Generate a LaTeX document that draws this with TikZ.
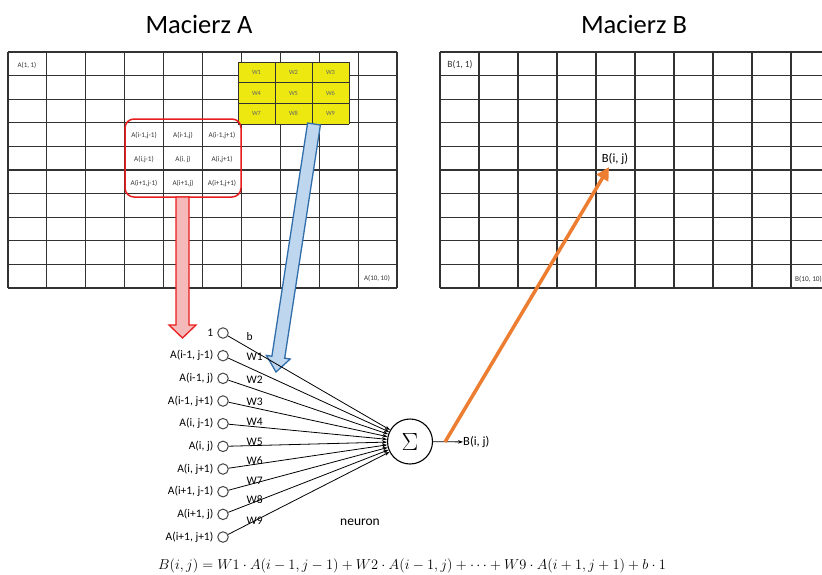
\documentclass[tikz,border=0pt]{standalone}
\usepackage{fontspec}
\setmainfont{Carlito}
\usetikzlibrary{arrows.meta}
\definecolor{gridc}{RGB}{50,50,50}
\definecolor{yel}{RGB}{236,232,16}
\definecolor{redc}{RGB}{232,30,30}
\definecolor{pinkc}{RGB}{245,185,185}
\definecolor{bluef}{RGB}{190,215,238}
\definecolor{bluec}{RGB}{50,110,170}
\definecolor{orangec}{RGB}{237,125,49}
\definecolor{circc}{RGB}{70,70,70}
\begin{document}
\begin{tikzpicture}[x=1pt,y=-1pt,
  gridline/.style={gridc,line width=1.1pt},
  titletext/.style={font=\fontsize{26.5}{28}\selectfont,inner sep=0pt},
  tinytext/.style={font=\fontsize{7}{8}\selectfont,inner sep=0pt,text=black!80},
  celltext/.style={font=\fontsize{7.2}{8}\selectfont,inner sep=0pt,text=black!80},
  wcell/.style={font=\fontsize{6.4}{7}\selectfont,inner sep=0pt,text=black!60},
  inlabel/.style={font=\fontsize{11.5}{12}\selectfont,anchor=east,inner sep=0pt},
  wlabel/.style={font=\fontsize{11.5}{12}\selectfont,anchor=west,inner sep=0pt},
  incirc/.style={circle,draw=circc,line width=1pt,minimum size=10.5pt,inner sep=0pt},
  conn/.style={line width=0.8pt,-{Stealth[length=5pt,width=3.5pt]}},
]
\useasboundingbox (0,0) rectangle (822,574);
\fill[white] (0,0) rectangle (822,574);

% titles
\node[titletext] (tA) at (199,24) {Macierz A};
\node[titletext] (tB) at (634,24) {Macierz B};

% left grid
\foreach \i in {0,...,10} {
  \draw[gridline] ({8+38.9*\i},52) -- ({8+38.9*\i},288);
  \draw[gridline] (8,{52+23.6*\i}) -- (397,{52+23.6*\i});
}
\node[tinytext] (a11) at (27,65) {A(1, 1)};
\node[tinytext] (a1010) at (377,278) {A(10, 10)};

% right grid (cut by the page edge)
\begin{scope}
\clip (430,40) rectangle (822,300);
\foreach \i in {0,...,10} {
  \draw[gridline] ({440+39*\i},52) -- ({440+39*\i},288);
  \draw[gridline] (440,{52+23.6*\i}) -- (832,{52+23.6*\i});
}
\node[font=\fontsize{9.5}{10}\selectfont,inner sep=0pt,text=black!80] (b11) at (460,65) {B(1, 1)};
\node[font=\fontsize{7.3}{8}\selectfont,inner sep=0pt,anchor=west,text=black!80] (b1010) at (795,279) {B(10, 10)};
\end{scope}

% yellow weights box
\fill[yel] (238,62) rectangle (349,124);
\foreach \i in {0,...,3} {
  \draw[gridc,line width=0.8pt] ({238+37*\i},62) -- ({238+37*\i},124);
  \draw[gridc,line width=0.8pt] (238,{62+20.667*\i}) -- (349,{62+20.667*\i});
}
\foreach \t [count=\k from 0] in {W1,W2,W3,W4,W5,W6,W7,W8,W9} {
  \pgfmathtruncatemacro{\r}{int(\k/3)}
  \pgfmathtruncatemacro{\c}{\k-3*\r}
  \node[wcell] (w\k) at ({256.5+37*\c},{72.3+20.667*\r}) {\t};
}

% red neighbourhood box
\draw[redc,line width=1.5pt,rounded corners=9pt] (125,119) rectangle (241,197);
\foreach \t [count=\k from 0] in {{A(i-1,j-1)},{A(i-1,j)},{A(i-1,j+1)},{A(i,j-1)},{A(i, j)},{A(i,j+1)},{A(i+1,j-1)},{A(i+1,j)},{A(i+1,j+1)}} {
  \pgfmathtruncatemacro{\r}{int(\k/3)}
  \pgfmathtruncatemacro{\c}{\k-3*\r}
  \node[celltext] (c\k) at ({144+39*\c},{135+24*\r}) {\t};
}

% red arrow
\draw[redc,fill=pinkc,line width=1.3pt,line join=miter]
  (176,197) -- (176,325) -- (169,325) -- (182.5,338) -- (196,325) -- (189,325) -- (189,197) -- cycle;

% blue arrow
\draw[bluec,fill=bluef,line width=1.3pt,line join=miter]
  (307.6,123.0) -- (320.4,125.0) -- (284.7,358.2) -- (290.2,359.0) -- (276,372) -- (266.4,355.4) -- (271.9,356.2) -- cycle;

% neuron
\node[circle,draw,line width=1.1pt,minimum size=45pt,inner sep=0pt] (sig) at (410,441.5) {\fontsize{24}{24}\selectfont$\Sigma$};

\foreach \t [count=\k from 0] in {{1},{A(i-1, j-1)},{A(i-1, j)},{A(i-1, j+1)},{A(i, j-1)},{A(i, j)},{A(i, j+1)},{A(i+1, j-1)},{A(i+1, j)},{A(i+1, j+1)}} {
  \node[incirc] (in\k) at (223,{333+22.67*\k}) {};
  \node[inlabel] (lab\k) at (213.5,{333+22.67*\k}) {\t};
  \draw[conn] (in\k) -- (sig);
}
\foreach \t/\yy [count=\k from 0] in {b/337,W1/357,W2/380,W3/402,W4/422,W5/442,W6/461,W7/481,W8/500,W9/521} {
  \node[wlabel] (wl\k) at (246.5,\yy) {\t};
}

\node[font=\fontsize{12.5}{13}\selectfont,anchor=west,inner sep=0pt] (out) at (463,442) {B(i, j)};
\draw[conn] (sig) -- (out);

\node[font=\fontsize{13.5}{14}\selectfont,inner sep=0pt] (neu) at (360,522) {neuron};

% output to matrix B
\node[font=\fontsize{12.5}{13}\selectfont,inner sep=0pt] (bij) at (615,159) {B(i, j)};
\coordinate (oS) at (445,442);
\coordinate (oT) at (609,167);
\draw[orangec,line width=3.5pt,-{Triangle[length=13pt,width=13pt]}] (oS) -- (oT);

% formula
\node[inner sep=0pt] (eq) at (412,566) {\fontsize{15.2}{16}\selectfont
  $B(i,j) = W1\cdot A(i-1,j-1) + W2\cdot A(i-1,j) + \cdots + W9\cdot A(i+1,j+1) + b\cdot 1$};
\end{tikzpicture}
\end{document}
